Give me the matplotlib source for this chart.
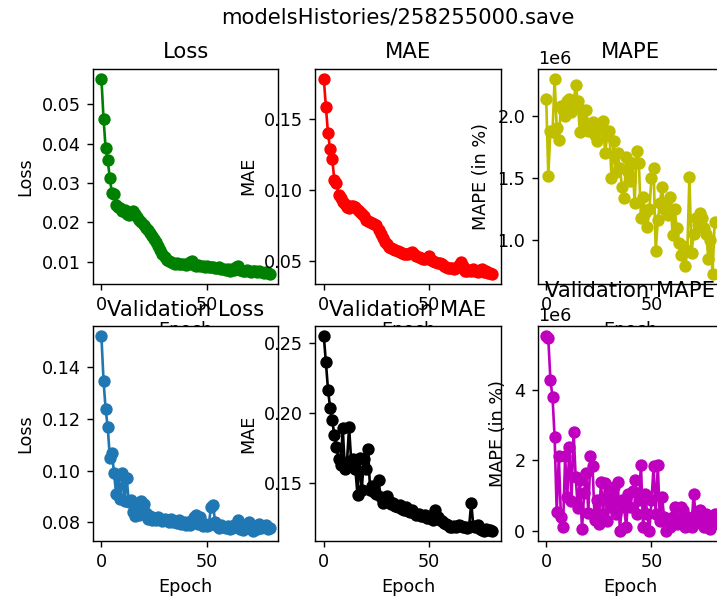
import numpy as np
import matplotlib
matplotlib.use("Agg")
import matplotlib.pyplot as plt

title = "modelsHistories/258255000.save"

loss = [0.0564, 0.0463, 0.0388, 0.0357, 0.0312, 0.0274, 0.0272, 0.0245, 0.0240, 0.0236,
        0.0230, 0.0232, 0.0222, 0.0219, 0.0226, 0.0228, 0.0221, 0.0213, 0.0206, 0.0200,
        0.0193, 0.0186, 0.0180, 0.0173, 0.0166, 0.0158, 0.0150, 0.0140, 0.0130, 0.0120,
        0.0112, 0.0106, 0.0102, 0.0099, 0.0098, 0.0096, 0.0097, 0.0095, 0.0094, 0.0096,
        0.0093, 0.0095, 0.0099, 0.0102, 0.0093, 0.0091, 0.0092, 0.0090, 0.0089, 0.0088,
        0.0090, 0.0087, 0.0086, 0.0088, 0.0085, 0.0084, 0.0086, 0.0082, 0.0081, 0.0079,
        0.0083, 0.0078, 0.0081, 0.0080, 0.0086, 0.0089, 0.0080, 0.0078, 0.0076, 0.0079,
        0.0077, 0.0075, 0.0078, 0.0076, 0.0074, 0.0077, 0.0075, 0.0073, 0.0074, 0.0072, 0.0070]

mae = [0.1787, 0.1586, 0.1400, 0.1287, 0.1216, 0.1074, 0.1050, 0.0962, 0.0940, 0.0915,
       0.0900, 0.0880, 0.0870, 0.0885, 0.0890, 0.0880, 0.0860, 0.0845, 0.0830, 0.0815,
       0.0790, 0.0780, 0.0772, 0.0765, 0.0760, 0.0750, 0.0720, 0.0690, 0.0660, 0.0630,
       0.0615, 0.0600, 0.0590, 0.0580, 0.0575, 0.0570, 0.0562, 0.0555, 0.0550, 0.0548,
       0.0545, 0.0552, 0.0560, 0.0545, 0.0535, 0.0528, 0.0520, 0.0515, 0.0510, 0.0520,
       0.0530, 0.0505, 0.0495, 0.0490, 0.0485, 0.0480, 0.0475, 0.0465, 0.0455, 0.0450,
       0.0445, 0.0450, 0.0440, 0.0445, 0.0470, 0.0488, 0.0460, 0.0430, 0.0425, 0.0432,
       0.0428, 0.0440, 0.0425, 0.0418, 0.0435, 0.0440, 0.0420, 0.0425, 0.0415, 0.0410, 0.0407]

# MAPE values in units of 1e6
mape = [2.14, 1.52, 1.88, 1.87, 2.30, 1.90, 1.81, 2.08, 2.05, 2.00,
        2.12, 2.14, 2.03, 2.10, 2.25, 2.12, 1.87, 2.05, 1.95, 2.05,
        1.88, 1.92, 1.95, 1.85, 1.80, 1.93, 1.90, 1.96, 1.70, 1.85,
        1.88, 1.50, 1.80, 1.55, 1.70, 1.58, 1.43, 1.34, 1.67, 1.55,
        1.48, 1.62, 1.30, 1.72, 1.62, 1.18, 1.35, 1.22, 1.11, 1.25,
        1.50, 1.58, 0.91, 1.16, 1.30, 1.43, 1.25, 1.30, 1.20, 1.35,
        1.04, 1.25, 1.10, 0.98, 0.88, 0.95, 0.79, 0.91, 1.51, 0.90,
        1.05, 1.18, 1.12, 1.22, 1.18, 1.10, 1.05, 0.85, 1.00, 0.73, 1.15]

val_loss = [0.1521, 0.1349, 0.1238, 0.1169, 0.1050, 0.1069, 0.0991, 0.0909, 0.0985, 0.0890,
            0.0991, 0.0885, 0.0972, 0.0880, 0.0887, 0.0840, 0.0826, 0.0856, 0.0830, 0.0883,
            0.0870, 0.0835, 0.0815, 0.0825, 0.0810, 0.0818, 0.0808, 0.0822, 0.0812, 0.0805,
            0.0815, 0.0808, 0.0803, 0.0812, 0.0800, 0.0806, 0.0798, 0.0810, 0.0795, 0.0802,
            0.0792, 0.0800, 0.0790, 0.0805, 0.0822, 0.0830, 0.0795, 0.0820, 0.0788, 0.0795,
            0.0785, 0.0790, 0.0860, 0.0869, 0.0800, 0.0785, 0.0780, 0.0790, 0.0783, 0.0778,
            0.0785, 0.0775, 0.0780, 0.0790, 0.0782, 0.0810, 0.0776, 0.0772, 0.0785, 0.0778,
            0.0800, 0.0776, 0.0766, 0.0783, 0.0775, 0.0795, 0.0778, 0.0785, 0.0790, 0.0775, 0.0780]

val_mae = [0.2547, 0.2360, 0.2165, 0.2038, 0.1950, 0.1842, 0.1758, 0.1674, 0.1630, 0.1890,
           0.1600, 0.1650, 0.1900, 0.1660, 0.1670, 0.1600, 0.1416, 0.1680, 0.1450, 0.1670,
           0.1600, 0.1746, 0.1450, 0.1480, 0.1440, 0.1420, 0.1520, 0.1400, 0.1360, 0.1380,
           0.1410, 0.1370, 0.1350, 0.1360, 0.1340, 0.1330, 0.1345, 0.1320, 0.1310, 0.1330,
           0.1300, 0.1295, 0.1310, 0.1285, 0.1275, 0.1280, 0.1270, 0.1265, 0.1275, 0.1255,
           0.1250, 0.1265, 0.1240, 0.1310, 0.1260, 0.1235, 0.1230, 0.1215, 0.1210, 0.1200,
           0.1190, 0.1185, 0.1195, 0.1190, 0.1200, 0.1195, 0.1185, 0.1190, 0.1180, 0.1190,
           0.1360, 0.1195, 0.1185, 0.1200, 0.1175, 0.1170, 0.1158, 0.1175, 0.1165, 0.1170, 0.1160]

# validation MAPE in units of 1e6
val_mape = [5.51, 5.45, 4.28, 3.79, 2.66, 0.54, 2.12, 0.40, 0.11, 2.12,
            0.96, 2.38, 0.85, 2.81, 1.54, 0.66, 1.45, 0.05, 1.07, 1.65,
            0.53, 2.12, 1.84, 0.33, 0.87, 0.21, 1.40, 0.49, 1.35, 0.30,
            1.06, 0.68, 1.25, 0.49, 1.40, 0.00, 0.87, 0.68, 0.11, 1.06,
            0.68, 1.15, 1.44, 0.49, 0.87, 1.88, 0.11, 1.06, 0.49, 0.02,
            0.87, 1.84, 0.49, 1.86, 0.30, 0.96, 0.40, 0.02, 0.30, 0.11,
            0.40, 0.68, 0.21, 0.30, 0.68, 0.59, 0.11, 0.40, 0.21, 0.11,
            1.06, 0.49, 0.30, 0.59, 0.21, 0.11, 0.49, 0.30, 0.05, 0.21, 0.49]

epochs = np.arange(len(loss))

fig, axs = plt.subplots(2, 3, figsize=(717 / 127, 599 / 127), dpi=127)
fig.subplots_adjust(left=0.1297, right=1.0085, bottom=0.0968, top=0.8848,
                    wspace=0.2, hspace=0.2)
fig.suptitle(title, x=0.555, y=0.987)

panels = [
    (axs[0, 0], loss, 1, "go-", "Loss", "Loss"),
    (axs[0, 1], mae, 1, "ro-", "MAE", "MAE"),
    (axs[0, 2], mape, 1e6, "yo-", "MAPE", "MAPE (in %)"),
    (axs[1, 0], val_loss, 1, "o-", "Validation Loss", "Loss"),
    (axs[1, 1], val_mae, 1, "ko-", "Validation MAE", "MAE"),
    (axs[1, 2], val_mape, 1e6, "mo-", "Validation MAPE", "MAPE (in %)"),
]

for ax, values, scale, fmt, name, ylab in panels:
    ax.plot(epochs, np.array(values) * scale, fmt)
    ax.set_title(name)
    ax.set_xlabel("Epoch")
    ax.set_ylabel(ylab)

fig.savefig("out.png", dpi=127)
